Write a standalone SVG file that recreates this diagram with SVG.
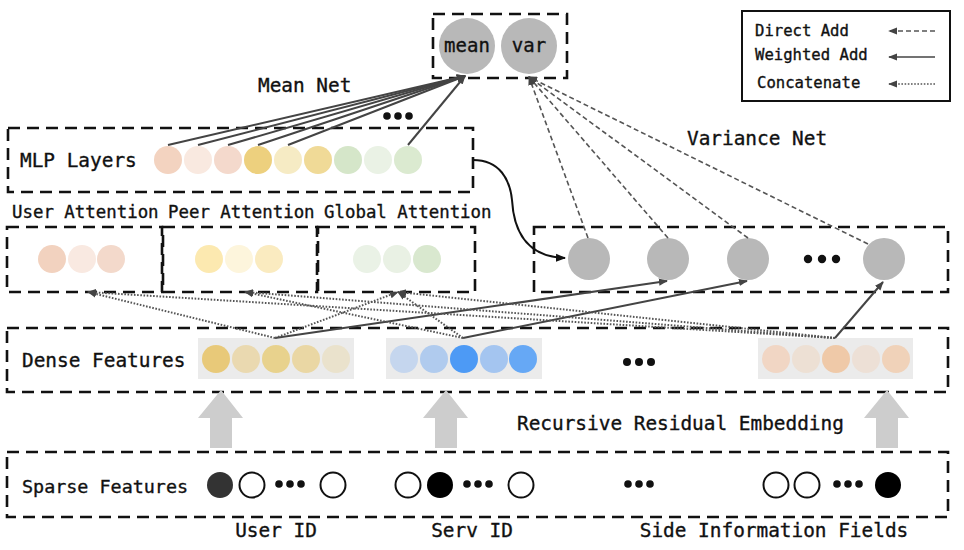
<svg xmlns="http://www.w3.org/2000/svg" width="964" height="550" viewBox="0 0 964 550">
<defs>
<style>
text{font-family:"DejaVu Sans Mono","Liberation Mono",monospace;fill:#111;stroke:#111;stroke-width:0.35;}
.lab{font-size:19.4px;}
.att{font-size:17.4px;}
.leg{font-size:15.6px;}
.box{fill:none;stroke:#111;stroke-width:2.6;stroke-dasharray:12 7;}
.solid{stroke:#444;stroke-width:2;fill:none;}
.dash{stroke:#555;stroke-width:1.6;stroke-dasharray:5 3;fill:none;}
.dot{stroke:#555;stroke-width:2;stroke-dasharray:1.6 1.6;fill:none;}
.vc{fill:#b8b8b8;}
.band{fill:#ebebeb;}
.open{fill:#fff;stroke:#111;stroke-width:2;}
.up{fill:#cdcdcd;}
</style>
<marker id="ah" viewBox="0 0 10 10" refX="9" refY="5" markerWidth="9" markerHeight="9" markerUnits="userSpaceOnUse" orient="auto">
<path d="M0,1 L10,5 L0,9 Z" fill="#444"/>
</marker>
<marker id="ahb" viewBox="0 0 10 10" refX="9" refY="5" markerWidth="10" markerHeight="10" markerUnits="userSpaceOnUse" orient="auto">
<path d="M0,1 L10,5 L0,9 Z" fill="#111"/>
</marker>
</defs>
<rect width="964" height="550" fill="#fff"/>

<!-- Output node -->
<g id="output">
<rect class="box" x="433" y="14" width="134" height="64"/>
<circle class="vc" cx="467" cy="46" r="28"/>
<circle class="vc" cx="529" cy="46" r="28"/>
<text x="467" y="52" text-anchor="middle" style="font-size:19px">mean</text>
<text x="529" y="52" text-anchor="middle" style="font-size:19px">var</text>
</g>

<!-- Legend -->
<g id="legend">
<rect x="742" y="11" width="208" height="90" fill="#fff" stroke="#111" stroke-width="2"/>
<text class="leg" x="755" y="36">Direct Add</text>
<text class="leg" x="755" y="60">Weighted Add</text>
<text class="leg" x="757" y="88">Concatenate</text>
<line class="dash" x1="935" y1="31" x2="889" y2="31" marker-end="url(#ah)" style="stroke-width:1.4"/>
<line class="solid" x1="935" y1="57" x2="889" y2="57" marker-end="url(#ah)" style="stroke-width:1.6"/>
<line class="dot" x1="935" y1="84" x2="889" y2="84" marker-end="url(#ah)" style="stroke-width:1.4"/>
</g>

<!-- Labels -->
<g id="labels">
<text class="lab" x="258" y="92">Mean Net</text>
<text class="lab" x="687" y="145">Variance Net</text>
<text class="lab" x="517" y="430">Recursive Residual Embedding</text>
<text class="lab" x="276" y="537" text-anchor="middle">User ID</text>
<text class="lab" x="472" y="537" text-anchor="middle">Serv ID</text>
<text class="lab" x="774" y="537" text-anchor="middle">Side Information Fields</text>
</g>

<!-- MLP layers -->
<g id="mlp">
<rect class="box" x="8" y="128" width="465" height="64"/>
<text class="lab" x="20" y="167">MLP Layers</text>
<circle cx="168" cy="160" r="14" fill="#f3d3c0"/>
<circle cx="198" cy="160" r="14" fill="#f9e9e0"/>
<circle cx="228" cy="160" r="14" fill="#f4d9cc"/>
<circle cx="258" cy="160" r="14" fill="#edd07e"/>
<circle cx="288" cy="160" r="14" fill="#f6ebc4"/>
<circle cx="318" cy="160" r="14" fill="#f0da97"/>
<circle cx="348" cy="160" r="14" fill="#d5e6c9"/>
<circle cx="378" cy="160" r="14" fill="#eaf2e5"/>
<circle cx="408" cy="160" r="14" fill="#dbead0"/>
<circle cx="387" cy="116" r="3.8" fill="#111"/>
<circle cx="398" cy="116" r="3.8" fill="#111"/>
<circle cx="409" cy="116" r="3.8" fill="#111"/>
</g>

<!-- Attention boxes -->
<g id="user-attention">
<rect class="box" x="7" y="227" width="155" height="65"/>
<text class="att" x="12" y="218">User Attention</text>
<circle cx="52" cy="259" r="14" fill="#f2d2bf"/>
<circle cx="82" cy="259" r="14" fill="#f9e9e1"/>
<circle cx="111" cy="259" r="14" fill="#f3d9cb"/>
</g>
<g id="peer-attention">
<rect class="box" x="163" y="227" width="154" height="65"/>
<text class="att" x="168" y="218">Peer Attention</text>
<circle cx="209" cy="259" r="14" fill="#fce9b0"/>
<circle cx="239" cy="259" r="14" fill="#fdf5dc"/>
<circle cx="269" cy="259" r="14" fill="#faebc0"/>
</g>
<g id="global-attention">
<rect class="box" x="318" y="227" width="157" height="65"/>
<text class="att" x="324" y="218">Global Attention</text>
<circle cx="367" cy="259" r="14" fill="#eaf2e6"/>
<circle cx="397" cy="259" r="14" fill="#e9f1e4"/>
<circle cx="427" cy="259" r="14" fill="#d9e8cf"/>
</g>

<!-- Variance layer -->
<g id="variance">
<rect class="box" x="534" y="227" width="414" height="65"/>
<circle class="vc" cx="589" cy="259" r="21"/>
<circle class="vc" cx="668" cy="259" r="21"/>
<circle class="vc" cx="748" cy="259" r="21"/>
<circle class="vc" cx="884" cy="259" r="21"/>
<circle cx="808" cy="259" r="4.2" fill="#111"/>
<circle cx="822" cy="259" r="4.2" fill="#111"/>
<circle cx="836" cy="259" r="4.2" fill="#111"/>
</g>

<!-- Dense features -->
<g id="dense">
<rect class="box" x="7" y="328" width="941" height="64"/>
<text class="lab" x="22" y="367">Dense Features</text>
<rect class="band" x="198" y="338" width="156" height="41"/>
<circle cx="216" cy="359" r="14" fill="#e8c979"/>
<circle cx="246" cy="359" r="14" fill="#ead9b0"/>
<circle cx="276" cy="359" r="14" fill="#e8d28d"/>
<circle cx="306" cy="359" r="14" fill="#ead7a4"/>
<circle cx="336" cy="359" r="14" fill="#eae2cc"/>
<rect class="band" x="386" y="338" width="156" height="41"/>
<circle cx="404" cy="359" r="14" fill="#c5d6ee"/>
<circle cx="434" cy="359" r="14" fill="#b0cbee"/>
<circle cx="464" cy="359" r="14" fill="#4d9af5"/>
<circle cx="494" cy="359" r="14" fill="#a4c5f0"/>
<circle cx="523" cy="359" r="14" fill="#66a8f5"/>
<rect class="band" x="758" y="338" width="155" height="41"/>
<circle cx="776" cy="359" r="14" fill="#f1d6c4"/>
<circle cx="806" cy="359" r="14" fill="#ede0d4"/>
<circle cx="836" cy="359" r="14" fill="#efc9a8"/>
<circle cx="866" cy="359" r="14" fill="#ede0d6"/>
<circle cx="896" cy="359" r="14" fill="#f0d2b9"/>
<circle cx="627" cy="362" r="4" fill="#111"/>
<circle cx="639" cy="362" r="4" fill="#111"/>
<circle cx="651" cy="362" r="4" fill="#111"/>
</g>

<!-- Sparse features -->
<g id="sparse">
<rect class="box" x="7" y="452" width="941" height="65"/>
<text x="22" y="493" style="font-size:18.4px">Sparse Features</text>
<circle cx="220" cy="485" r="13" fill="#333"/>
<circle class="open" cx="252" cy="485" r="12.5"/>
<circle cx="279" cy="484" r="3.8" fill="#111"/>
<circle cx="290" cy="484" r="3.8" fill="#111"/>
<circle cx="301" cy="484" r="3.8" fill="#111"/>
<circle class="open" cx="333" cy="485" r="12.5"/>
<circle class="open" cx="408" cy="485" r="12.5"/>
<circle cx="440" cy="485" r="13" fill="#000"/>
<circle cx="467" cy="484" r="3.8" fill="#111"/>
<circle cx="478" cy="484" r="3.8" fill="#111"/>
<circle cx="489" cy="484" r="3.8" fill="#111"/>
<circle class="open" cx="521" cy="485" r="12.5"/>
<circle cx="628" cy="484" r="3.8" fill="#111"/>
<circle cx="639" cy="484" r="3.8" fill="#111"/>
<circle cx="650" cy="484" r="3.8" fill="#111"/>
<circle class="open" cx="776" cy="485" r="12.5"/>
<circle class="open" cx="807" cy="485" r="12.5"/>
<circle cx="837" cy="484" r="3.8" fill="#111"/>
<circle cx="848" cy="484" r="3.8" fill="#111"/>
<circle cx="859" cy="484" r="3.8" fill="#111"/>
<circle cx="888" cy="485" r="13" fill="#000"/>
</g>

<!-- Connectors -->
<g id="connectors">
<!-- embedding arrows -->
<path class="up" d="M210,448 V418 H198 L221,390 L243,418 H232 V448 Z"/>
<path class="up" d="M435,448 V418 H423 L446,390 L468,418 H457 V448 Z"/>
<path class="up" d="M876,448 V418 H864 L887,390 L909,418 H898 V448 Z"/>
<!-- mean net -->
<line class="solid" x1="168" y1="145" x2="465" y2="76" marker-end="url(#ah)"/>
<line class="solid" x1="198" y1="145" x2="465" y2="76" marker-end="url(#ah)"/>
<line class="solid" x1="228" y1="145" x2="465" y2="76" marker-end="url(#ah)"/>
<line class="solid" x1="258" y1="145" x2="465" y2="76" marker-end="url(#ah)"/>
<line class="solid" x1="288" y1="145" x2="465" y2="76" marker-end="url(#ah)"/>
<line class="solid" x1="408" y1="145" x2="465" y2="76" marker-end="url(#ah)"/>
<!-- variance net -->
<line class="dash" x1="588" y1="238" x2="529" y2="77" marker-end="url(#ah)"/>
<line class="dash" x1="668" y1="238" x2="529" y2="77" marker-end="url(#ah)"/>
<line class="dash" x1="748" y1="238" x2="529" y2="77" marker-end="url(#ah)"/>
<line class="dash" x1="868" y1="244" x2="529" y2="77" marker-end="url(#ah)"/>
<!-- MLP to variance -->
<path d="M473,160 C500,160 510,180 512,200 C514,235 530,257 565,258" fill="none" stroke="#111" stroke-width="2" marker-end="url(#ahb)"/>
<!-- weighted add from dense to variance -->
<line class="solid" x1="275" y1="338" x2="667" y2="281" marker-end="url(#ah)"/>
<line class="solid" x1="463" y1="338" x2="747" y2="281" marker-end="url(#ah)"/>
<line class="solid" x1="835" y1="338" x2="883" y2="282" marker-end="url(#ah)"/>
<!-- concatenate -->
<line class="dot" x1="275" y1="338" x2="88" y2="292" marker-end="url(#ah)"/>
<line class="dot" x1="275" y1="338" x2="398" y2="292" marker-end="url(#ah)"/>
<line class="dot" x1="463" y1="338" x2="245" y2="292" marker-end="url(#ah)"/>
<line class="dot" x1="463" y1="338" x2="398" y2="292" marker-end="url(#ah)"/>
<line class="dot" x1="835" y1="338" x2="88" y2="292" marker-end="url(#ah)"/>
<line class="dot" x1="835" y1="338" x2="245" y2="292" marker-end="url(#ah)"/>
<line class="dot" x1="835" y1="338" x2="398" y2="292" marker-end="url(#ah)"/>
</g>
</svg>
